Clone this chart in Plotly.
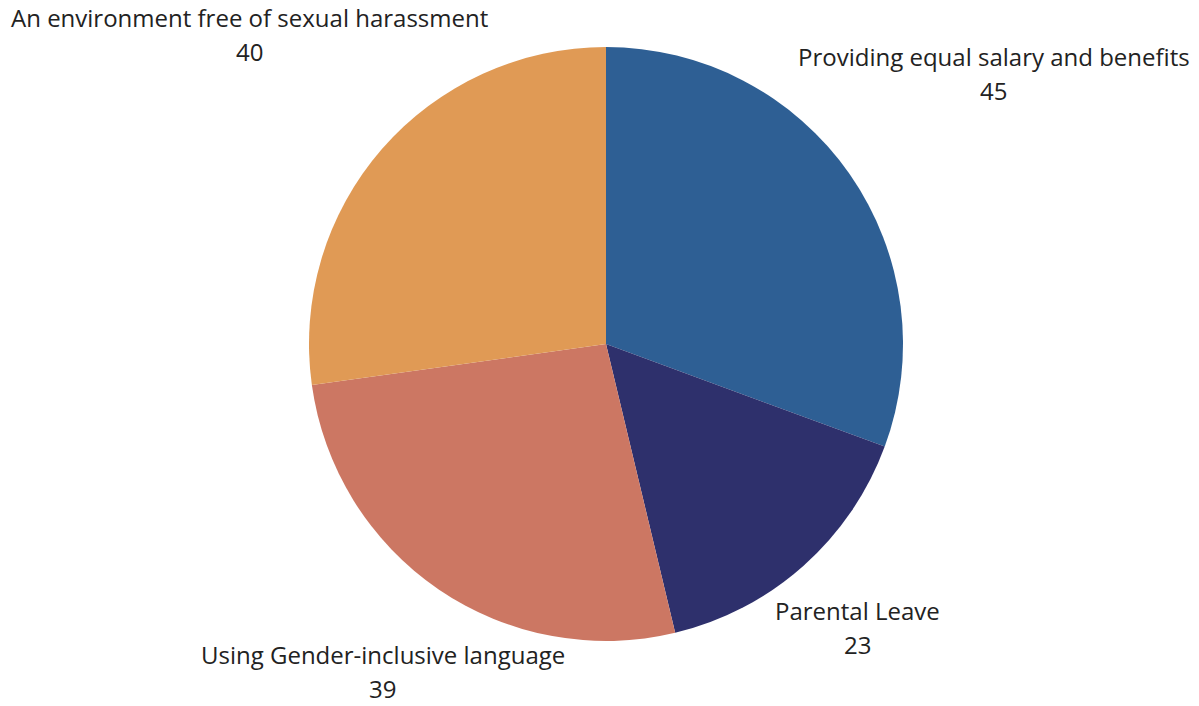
import math
import plotly.graph_objects as go

categories = [
    "Providing equal salary and benefits",
    "Parental Leave",
    "Using Gender-inclusive language",
    "An environment free of sexual harassment",
]
values = [45, 23, 39, 40]
colors = ["#2E5F94", "#2E306C", "#CC7763", "#E09A55"]

# distance (px) from pie centre to the centre of each label block
label_dist = [473, 379, 396, 472]

W, H = 1199, 706
cx, cy, r = 606, 344, 297  # pie centre and radius in pixels
FONT = dict(family="Open Sans", size=24, color="#222222")

fig = go.Figure(
    go.Pie(
        labels=categories,
        values=values,
        sort=False,
        direction="clockwise",
        rotation=0,
        marker=dict(colors=colors, line=dict(width=0)),
        textinfo="none",
        hoverinfo="label+value",
        showlegend=False,
        domain=dict(
            x=[(cx - r) / W, (cx + r) / W],
            y=[(H - cy - r) / H, (H - cy + r) / H],
        ),
    )
)

# outside labels placed along each slice's mid-angle
total = sum(values)
cum = 0
for cat, val, dist in zip(categories, values, label_dist):
    mid = (cum + val / 2) / total * 2 * math.pi
    cum += val
    px = cx + dist * math.sin(mid)
    py = cy - dist * math.cos(mid)
    for txt, shift in ((cat, 17), (str(val), -17)):
        fig.add_annotation(
            x=px / W, y=1 - py / H, xref="paper", yref="paper",
            text=txt, showarrow=False, font=FONT,
            xanchor="center", yanchor="middle", yshift=shift,
        )

fig.update_layout(
    width=W,
    height=H,
    margin=dict(l=0, r=0, t=0, b=0),
    paper_bgcolor="white",
    plot_bgcolor="white",
)

fig.write_html("out.html")
